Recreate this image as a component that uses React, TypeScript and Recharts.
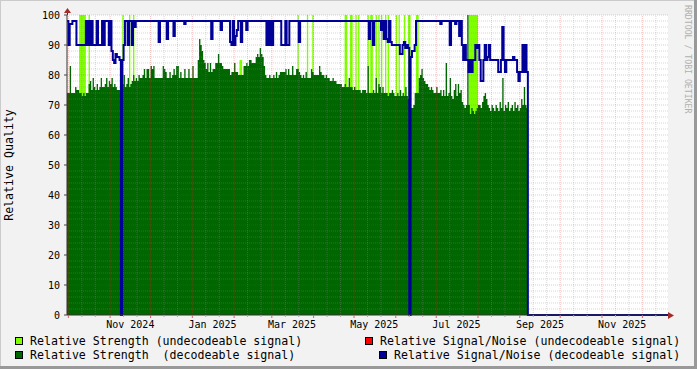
import React from "react";
import { ComposedChart, Area, Line, XAxis, YAxis, ReferenceLine, CartesianGrid } from "recharts";

// day 0 = 1 Oct 2024, one value per day starting at firstDay
const firstDay = -1;
const lastAxisDay = 445;

// Relative Strength (decodeable signal)
const strength = [
  74, 74, 83, 74, 74, 74, 76, 75, 75, 74, 74,
  73, 74, 73, 74, 74, 77, 78, 75, 79, 76,
  75, 77, 75, 76, 79, 76, 76, 77, 79, 76,
  78, 77, 79, 76, 77, 76, 75, 75, 75, 0,
  77, 80, 76, 77, 79, 76, 77, 78, 80, 78,
  79, 78, 80, 79, 79, 80, 82, 79, 82, 82,
  79, 83, 82, 83, 79, 79, 79, 79, 79, 79,
  83, 82, 81, 79, 79, 81, 79, 80, 82, 80,
  83, 83, 79, 81, 79, 79, 82, 79, 79, 82,
  79, 79, 83, 79, 79, 79, 85, 92, 90, 88,
  85, 84, 82, 84, 81, 84, 81, 82, 82, 84,
  84, 87, 84, 84, 83, 82, 82, 82, 82, 82,
  80, 81, 81, 84, 81, 81, 80, 80, 80, 80,
  83, 83, 84, 83, 85, 85, 84, 84, 84, 86,
  87, 86, 89, 87, 86, 83, 80, 79, 79, 80,
  79, 79, 80, 79, 81, 79, 80, 81, 81, 81,
  81, 82, 80, 82, 80, 80, 83, 80, 80, 82,
  82, 81, 80, 79, 80, 79, 81, 79, 79, 79,
  82, 81, 80, 80, 80, 80, 83, 81, 80, 80,
  79, 80, 79, 79, 78, 78, 79, 78, 78, 77,
  77, 77, 77, 76, 76, 77, 76, 76, 79, 76,
  76, 75, 76, 75, 75, 75, 75, 74, 75, 75,
  75, 74, 83, 74, 74, 74, 75, 74, 79, 74,
  77, 76, 74, 76, 74, 74, 74, 73, 74, 74,
  75, 74, 73, 73, 74, 73, 75, 73, 74, 73,
  76, 73, 72, 0, 69, 69, 70, 74, 74, 74,
  79, 80, 82, 79, 78, 77, 77, 76, 75, 76,
  75, 74, 74, 76, 74, 74, 75, 73, 75, 73,
  84, 73, 74, 79, 73, 72, 75, 77, 73, 77,
  74, 75, 71, 70, 69, 70, 100, 70, 67, 69,
  68, 67, 68, 69, 70, 70, 69, 71, 73, 74,
  72, 70, 69, 68, 70, 69, 68, 70, 69, 68,
  71, 69, 79, 68, 70, 69, 71, 68, 69, 70,
  68, 71, 69, 70, 68, 69, 72, 70, 76, 70,
  69, 0,
];

// Relative Signal/Noise (decodeable signal)
const snr = [
  98, 90, 97, 97, 98, 98, 98, 90, 90, 90, 90,
  90, 90, 90, 98, 90, 98, 90, 98, 90, 90,
  90, 98, 90, 90, 90, 98, 90, 98, 98, 98,
  90, 98, 88, 85, 84, 87, 86, 86, 85, 0,
  85, 90, 98, 98, 90, 98, 98, 90, 98, 96,
  98, 98, 98, 98, 98, 98, 98, 98, 98, 98,
  98, 98, 98, 98, 98, 98, 98, 91, 98, 98,
  98, 98, 98, 92, 98, 98, 98, 98, 93, 98,
  98, 98, 98, 98, 98, 98, 97, 98, 98, 98,
  98, 98, 98, 98, 98, 98, 98, 98, 98, 98,
  98, 98, 98, 98, 98, 98, 92, 98, 98, 98,
  98, 98, 98, 95, 98, 98, 98, 98, 98, 98,
  91, 90, 98, 90, 93, 95, 98, 98, 91, 98,
  98, 98, 95, 98, 98, 98, 98, 98, 98, 98,
  98, 98, 98, 98, 98, 98, 98, 90, 98, 90,
  98, 90, 98, 98, 98, 98, 98, 98, 90, 90,
  90, 98, 90, 90, 98, 98, 98, 98, 98, 98,
  98, 91, 98, 98, 98, 98, 98, 98, 98, 98,
  98, 98, 98, 98, 98, 98, 98, 98, 98, 98,
  98, 98, 98, 98, 98, 98, 98, 98, 98, 98,
  98, 98, 98, 98, 98, 98, 98, 98, 98, 98,
  98, 98, 98, 98, 98, 98, 98, 98, 98, 98,
  98, 98, 98, 92, 98, 98, 90, 98, 98, 98,
  98, 98, 95, 98, 92, 98, 92, 91, 98, 91,
  90, 90, 90, 90, 90, 90, 87, 87, 90, 91,
  89, 90, 89, 0, 86, 88, 88, 90, 98, 98,
  98, 98, 98, 98, 98, 98, 98, 98, 98, 98,
  98, 98, 98, 98, 98, 98, 97, 98, 98, 98,
  98, 98, 98, 90, 98, 98, 98, 97, 98, 98,
  93, 98, 90, 85, 90, 85, 85, 81, 85, 81,
  85, 85, 90, 89, 90, 85, 78, 78, 85, 90,
  85, 86, 90, 85, 85, 85, 85, 85, 85, 81,
  81, 85, 96, 85, 81, 85, 85, 85, 85, 85,
  86, 85, 85, 81, 78, 81, 81, 90, 81, 90,
  81, 0,
];
// S/N after the last sample, up to the end of the axis
const snrTailDays = [lastAxisDay];
const snrTail = [0];

// Relative Strength (undecodeable signal)
const undecodedDays = [
  8, 9, 10, 11, 12, 15, 40, 45, 48, 127, 128, 170, 177, 181, 205, 206, 209, 210,
  213, 215, 222, 224, 225, 228, 230, 232, 235, 237, 243, 245, 249, 252, 253, 258,
  259, 297, 298, 299, 300, 301, 302, 303,
];
const undecodedValues = [
  100, 100, 100, 100, 100, 100, 100, 100, 100, 85, 85, 100, 100, 100, 100, 100, 100, 100,
  100, 100, 100, 100, 100, 100, 100, 100, 100, 100, 100, 100, 100, 100, 100, 100,
  100, 100, 100, 100, 100, 100, 100, 100,
];

// month starts (major grid) and label positions
const monthStarts = [0, 31, 61, 92, 123, 151, 182, 212, 243, 273, 304, 335, 365, 396, 426];
const labelDays = [46, 107, 166, 227, 288, 350, 411];
const labelTexts = ["Nov 2024", "Jan 2025", "Mar 2025", "May 2025", "Jul 2025", "Sep 2025", "Nov 2025"];
const yTicks = [0, 10, 20, 30, 40, 50, 60, 70, 80, 90, 100];

const minorDays = monthStarts
  .flatMap((d) => [d + 10, d + 20])
  .filter((d) => d < lastAxisDay);
const minorY = Array.from({ length: 49 }, (_, i) => (i + 1) * 2).filter((v) => v % 10 !== 0);
const majorY = yTicks.filter((v) => v > 0);

const rows: any[] = strength.map((s, i) => {
  const day = firstDay + i;
  const k = undecodedDays.indexOf(day);
  return { day, strength: s, undecoded: k >= 0 ? undecodedValues[k] : 0, snr: snr[i] };
});
snrTailDays.forEach((d, i) => rows.push({ day: d, snr: snrTail[i] }));

const FONT = '"DejaVu Sans Mono", monospace';
const MINOR = "rgba(140,140,140,0.35)";
const MAJOR = "rgba(222,48,48,0.3)";

const XTick = (props: any) => {
  const { x, y, payload } = props;
  const li = labelDays.indexOf(payload.value);
  if (li >= 0)
    return (
      <text x={x} y={y + 12.5} textAnchor="middle" fontFamily={FONT} fontSize={10} fill="#000">
        {labelTexts[li]}
      </text>
    );
  const major = monthStarts.includes(payload.value);
  return <line x1={x} x2={x} y1={y} y2={y + (major ? 3 : 2)} stroke={major ? "#e06060" : "#aaa"} />;
};

const YTick = (props: any) => {
  const { x, y, payload } = props;
  return (
    <g>
      <line x1={x - 3} x2={x} y1={y} y2={y} stroke="#444" />
      <text x={x - 7} y={y + 3.5} textAnchor="end" fontFamily={FONT} fontSize={10} fill="#000">
        {payload.value}
      </text>
    </g>
  );
};

const legend = [
  { color: "#80ff00", text: "Relative Strength (undecodeable signal)", left: 15, top: 337 },
  { color: "#006600", text: "Relative Strength  (decodeable signal)", left: 15, top: 351 },
  { color: "#ff0000", text: "Relative Signal/Noise (undecodeable signal)", left: 365, top: 337 },
  { color: "#000099", text: "Relative Signal/Noise (decodeable signal)", left: 379, top: 351 },
];

export default function App() {
  return (
    <div
      style={{
        position: "absolute",
        left: 0,
        top: 0,
        width: 697,
        height: 369,
        background: "#f2f2f2",
        fontFamily: FONT,
        overflow: "hidden",
      }}
    >
      <ComposedChart
        width={697}
        height={369}
        data={rows}
        margin={{ top: 15, right: 29, bottom: 24, left: 7 }}
      >
        <CartesianGrid fill="#ffffff" horizontal={false} vertical={false} />
        <XAxis
          type="number"
          dataKey="day"
          domain={[firstDay, lastAxisDay]}
          allowDataOverflow
          ticks={[...labelDays, ...monthStarts, ...minorDays]}
          interval={0}
          height={30}
          tickLine={false}
          tickSize={0}
          tickMargin={0}
          tick={<XTick />}
          axisLine={{ stroke: "#333" }}
        />
        <YAxis
          type="number"
          domain={[0, 100]}
          ticks={yTicks}
          interval={0}
          width={60}
          tickLine={false}
          tickSize={0}
          tickMargin={0}
          tick={<YTick />}
          axisLine={{ stroke: "#333" }}
        />
        <Area
          dataKey="undecoded"
          type="stepAfter"
          fill="#80ff00"
          fillOpacity={1}
          stroke="none"
          dot={false}
          activeDot={false}
          isAnimationActive={false}
        />
        <Area
          dataKey="strength"
          type="stepAfter"
          fill="#006600"
          fillOpacity={1}
          stroke="none"
          dot={false}
          activeDot={false}
          isAnimationActive={false}
        />
        {minorY.map((v) => (
          <ReferenceLine key={"hy" + v} y={v} stroke={MINOR} strokeDasharray="1 1" />
        ))}
        {minorDays.map((d) => (
          <ReferenceLine key={"vx" + d} x={d} stroke={MINOR} strokeDasharray="1 1" />
        ))}
        {majorY.map((v) => (
          <ReferenceLine key={"my" + v} y={v} stroke={MAJOR} strokeDasharray="1 1" />
        ))}
        {monthStarts.map((d) => (
          <ReferenceLine key={"mx" + d} x={d} stroke={MAJOR} strokeDasharray="1 1" />
        ))}
        <Line
          dataKey="snr"
          type="stepAfter"
          stroke="#000099"
          strokeWidth={2}
          dot={false}
          activeDot={false}
          isAnimationActive={false}
        />
      </ComposedChart>

      <svg
        width={697}
        height={369}
        style={{ position: "absolute", left: 0, top: 0, pointerEvents: "none" }}
      >
        {/* frame */}
        <line x1={0} y1={0.5} x2={697} y2={0.5} stroke="#cbcbcb" />
        <line x1={0.5} y1={0} x2={0.5} y2={369} stroke="#cbcbcb" />
        <line x1={0} y1={367.5} x2={697} y2={367.5} stroke="#999" strokeWidth={3} />
        <line x1={695.5} y1={0} x2={695.5} y2={369} stroke="#999" strokeWidth={3} />
        {/* axis arrows */}
        <line x1={67.5} y1={15} x2={67.5} y2={11} stroke="#333" />
        <polygon points="64,13 71,13 67.5,8" fill="#a52a2a" />
        <line x1={668} y1={315.5} x2={670} y2={315.5} stroke="#333" />
        <polygon points="668,312 668,319 674,315.5" fill="#a52a2a" />
        <text
          transform="translate(12.5,165) rotate(-90)"
          textAnchor="middle"
          fontFamily={FONT}
          fontSize={11.6}
          fill="#000"
        >
          Relative Quality
        </text>
        <text
          transform="translate(685,5) rotate(90)"
          textAnchor="start"
          fontFamily={FONT}
          fontSize={8.2}
          fill="#b0b0b0"
        >
          RRDTOOL / TOBI OETIKER
        </text>
      </svg>

      {legend.map((l) => (
        <div key={l.text} style={{ position: "absolute", left: l.left, top: l.top, height: 8 }}>
          <div
            style={{
              position: "absolute",
              left: 0,
              top: 0,
              width: 6,
              height: 6,
              border: "1px solid #000",
              background: l.color,
            }}
          />
          <div
            style={{
              position: "absolute",
              left: 15,
              top: -4,
              fontSize: 11.6,
              lineHeight: "16px",
              whiteSpace: "pre",
              color: "#000",
            }}
          >
            {l.text}
          </div>
        </div>
      ))}
    </div>
  );
}
